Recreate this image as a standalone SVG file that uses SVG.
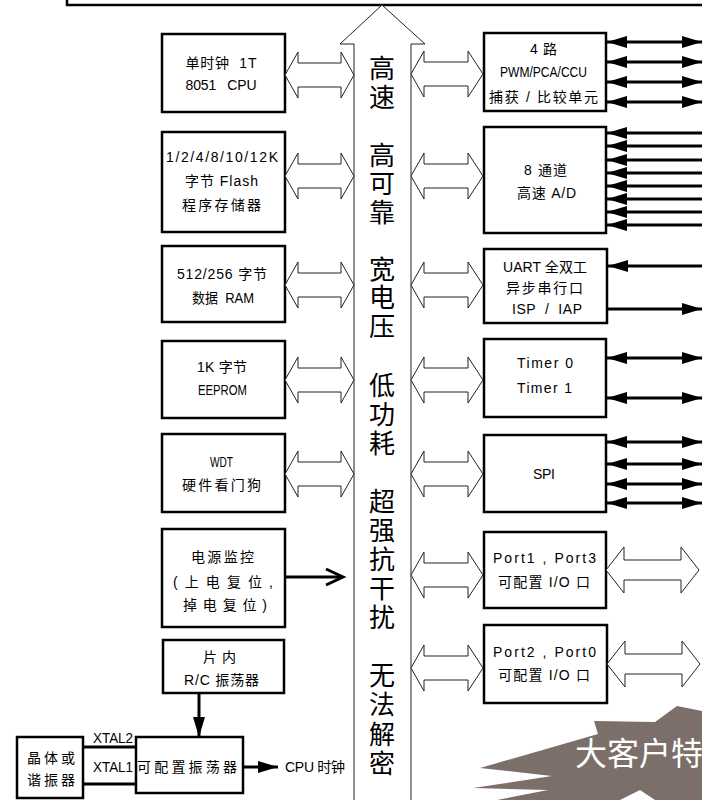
<svg xmlns="http://www.w3.org/2000/svg" width="702" height="800" viewBox="0 0 702 800">
<defs>
<style>
.box{fill:#fff;stroke:#000;stroke-width:2.5}
.t{font-family:"Liberation Sans","Noto Sans CJK SC",sans-serif;font-size:14px;fill:#000;text-anchor:middle;white-space:pre}
.bt{font-family:"Noto Sans CJK SC",sans-serif;font-size:26px;fill:#000;writing-mode:vertical-rl;text-anchor:start;letter-spacing:3px}
.hol{fill:#fff;stroke:#222;stroke-width:1}
.ln{stroke:#000;stroke-width:3;fill:none}
.lnb{stroke:#000;stroke-width:3;fill:none;marker-start:url(#ah);marker-end:url(#ah)}
.lne{stroke:#000;stroke-width:3;fill:none;marker-end:url(#ah)}
</style>
<marker id="ah" viewBox="0 0 20 12" refX="20" refY="6" markerWidth="20" markerHeight="12" markerUnits="userSpaceOnUse" orient="auto-start-reverse"><path d="M0,0L20,6L0,12z" fill="#000"/></marker>
<path id="hl" d="M0,0 L13,-23 L13,-12 L56,-12 L56,-23 L69,0 L56,23 L56,12 L13,12 L13,23Z"/>
<path id="hr" d="M0,0 L13,-23 L13,-12 L57,-12 L57,-23 L72,0 L57,23 L57,12 L13,12 L13,23Z"/>
<path id="hp" d="M0,0 L18,-23 L18,-10 L75,-10 L75,-23 L93,0 L75,23 L75,10 L18,10 L18,23Z"/>
</defs>
<rect width="702" height="800" fill="#fff"/>

<g id="top"><rect class="box" x="67" y="-20" width="660" height="25"/></g>

<g id="bus">
<path d="M354,800 L354,44 L340,44 L382,5 L425,44 L411,44 L411,800" fill="#fff" stroke="#222" stroke-width="1"/>
<text class="bt" x="382" y="55">高速</text>
<text class="bt" x="382" y="142" style="letter-spacing:2.5px">高可靠</text>
<text class="bt" x="382" y="256" style="letter-spacing:2.5px">宽电压</text>
<text class="bt" x="382" y="372">低功耗</text>
<text class="bt" x="382" y="488">超强抗干扰</text>
<text class="bt" x="382" y="662" style="letter-spacing:3.5px">无法解密</text>
</g>

<g id="cpu"><rect class="box" x="162" y="34" width="123" height="78"/>
<text class="t" x="221" y="68" textLength="71" lengthAdjust="spacing">单时钟  1T</text>
<text class="t" x="221" y="90" textLength="71" lengthAdjust="spacing">8051   CPU</text></g>

<g id="flash"><rect class="box" x="162" y="132" width="123" height="100"/>
<text class="t" x="222" y="162" textLength="112" lengthAdjust="spacing">1/2/4/8/10/12K</text>
<text class="t" x="221.5" y="186" textLength="73" lengthAdjust="spacing">字节 Flash</text>
<text class="t" x="221.5" y="210" textLength="79" lengthAdjust="spacing">程序存储器</text></g>

<g id="ram"><rect class="box" x="162" y="246" width="123" height="76"/>
<text class="t" x="222" y="279" textLength="90" lengthAdjust="spacing">512/256 字节</text>
<text class="t" x="223" y="303" textLength="62" lengthAdjust="spacingAndGlyphs">数据  RAM</text></g>

<g id="eeprom"><rect class="box" x="162" y="341" width="123" height="77"/>
<text class="t" x="222" y="372" textLength="50" lengthAdjust="spacing">1K 字节</text>
<text class="t" x="222.5" y="395" textLength="49" lengthAdjust="spacingAndGlyphs">EEPROM</text></g>

<g id="wdt"><rect class="box" x="162" y="434" width="123" height="78"/>
<text class="t" x="221.5" y="467" textLength="23" lengthAdjust="spacingAndGlyphs">WDT</text>
<text class="t" x="221.5" y="490" textLength="79" lengthAdjust="spacing">硬件看门狗</text></g>

<g id="power"><rect class="box" x="162" y="529" width="123" height="98"/>
<text class="t" x="222.5" y="562" textLength="63" lengthAdjust="spacing">电源监控</text>
<text class="t" x="223" y="587" textLength="100" lengthAdjust="spacing">( 上 电 复 位 ,</text>
<text class="t" x="225" y="610" textLength="84" lengthAdjust="spacing">掉 电 复 位 )</text></g>

<g id="rc"><rect class="box" x="163" y="640" width="121" height="53"/>
<text class="t" x="219.5" y="662" textLength="33" lengthAdjust="spacing">片内</text>
<text class="t" x="221.5" y="685" textLength="75" lengthAdjust="spacing">R/C 振荡器</text></g>

<g id="osc"><rect class="box" x="136" y="737" width="107" height="56"/>
<text class="t" x="187" y="772" textLength="100" lengthAdjust="spacing">可配置振荡器</text></g>

<g id="crystal"><rect class="box" x="17" y="737" width="66" height="61"/>
<text class="t" x="51" y="763" textLength="48" lengthAdjust="spacing">晶体或</text>
<text class="t" x="51" y="785" textLength="48" lengthAdjust="spacing">谐振器</text></g>

<g id="pwm"><rect class="box" x="484" y="33" width="122" height="78"/>
<text class="t" x="543.5" y="54" textLength="27" lengthAdjust="spacing">4 路</text>
<text class="t" x="543.5" y="77" textLength="87" lengthAdjust="spacingAndGlyphs">PWM/PCA/CCU</text>
<text class="t" x="543.5" y="102" textLength="109" lengthAdjust="spacing">捕获 / 比较单元</text></g>

<g id="adc"><rect class="box" x="484" y="127" width="122" height="106"/>
<text class="t" x="545.5" y="175" textLength="43" lengthAdjust="spacing">8 通道</text>
<text class="t" x="546.5" y="198" textLength="59" lengthAdjust="spacing">高速 A/D</text></g>

<g id="uart"><rect class="box" x="484" y="249" width="123" height="74"/>
<text class="t" x="545" y="272" textLength="84" lengthAdjust="spacing">UART 全双工</text>
<text class="t" x="544.5" y="293" textLength="77" lengthAdjust="spacing">异步串行口</text>
<text class="t" x="547" y="314" textLength="70" lengthAdjust="spacing">ISP  /  IAP</text></g>

<g id="timer"><rect class="box" x="484" y="339" width="122" height="78"/>
<text class="t" x="545" y="368" textLength="56" lengthAdjust="spacing">Timer 0</text>
<text class="t" x="544.5" y="393" textLength="55" lengthAdjust="spacing">Timer 1</text></g>

<g id="spi"><rect class="box" x="484" y="435" width="122" height="77"/>
<text class="t" x="544" y="479" textLength="22" lengthAdjust="spacing">SPI</text></g>

<g id="port13"><rect class="box" x="484" y="532" width="122" height="76"/>
<text class="t" x="544.5" y="563" textLength="103" lengthAdjust="spacing">Port1 , Port3</text>
<text class="t" x="544" y="587" textLength="92" lengthAdjust="spacing">可配置 I/O 口</text></g>

<g id="port20"><rect class="box" x="484" y="625" width="123" height="78"/>
<text class="t" x="544.5" y="657" textLength="103" lengthAdjust="spacing">Port2 , Port0</text>
<text class="t" x="544" y="680" textLength="92" lengthAdjust="spacing">可配置 I/O 口</text></g>

<g id="banner">
<polygon points="677,706 702,711 702,800 655,800 640,790 620,800 497,800 548,790 473,788 552,776 480,768 598,734 594,721 655,722" fill="#7c6e69"/>
<text x="575" y="765" font-family="Noto Sans CJK SC, sans-serif" font-size="32" fill="#fff">大客户特</text>
</g>

<g id="connectors">
<use href="#hl" class="hol" x="285" y="75"/>
<use href="#hl" class="hol" x="285" y="176"/>
<use href="#hl" class="hol" x="285" y="285"/>
<use href="#hl" class="hol" x="285" y="380"/>
<use href="#hl" class="hol" x="285" y="474"/>
<use href="#hr" class="hol" x="411" y="74"/>
<use href="#hr" class="hol" x="411" y="176"/>
<use href="#hr" class="hol" x="411" y="285"/>
<use href="#hr" class="hol" x="411" y="380"/>
<use href="#hr" class="hol" x="411" y="474"/>
<use href="#hr" class="hol" x="411" y="575"/>
<use href="#hr" class="hol" x="411" y="668"/>
<use href="#hp" class="hol" x="606" y="570"/>
<use href="#hp" class="hol" x="607" y="664"/>
<line class="lnb" x1="607" y1="42" x2="702" y2="42"/>
<line class="lnb" x1="607" y1="62" x2="702" y2="62"/>
<line class="lnb" x1="607" y1="82" x2="702" y2="82"/>
<line class="lnb" x1="607" y1="102" x2="702" y2="102"/>
<line class="lne" x1="702" y1="133" x2="607" y2="133"/>
<line class="lne" x1="702" y1="146" x2="607" y2="146"/>
<line class="lne" x1="702" y1="160" x2="607" y2="160"/>
<line class="lne" x1="702" y1="173" x2="607" y2="173"/>
<line class="lne" x1="702" y1="186" x2="607" y2="186"/>
<line class="lne" x1="702" y1="199" x2="607" y2="199"/>
<line class="lne" x1="702" y1="212" x2="607" y2="212"/>
<line class="lne" x1="702" y1="225" x2="607" y2="225"/>
<line class="lne" x1="702" y1="266" x2="608" y2="266"/>
<line class="lne" x1="608" y1="309" x2="702" y2="309"/>
<line class="lnb" x1="607" y1="358" x2="702" y2="358"/>
<line class="lnb" x1="607" y1="398" x2="702" y2="398"/>
<line class="lnb" x1="607" y1="442" x2="702" y2="442"/>
<line class="lnb" x1="607" y1="464" x2="702" y2="464"/>
<line class="lnb" x1="607" y1="484" x2="702" y2="484"/>
<line class="lnb" x1="607" y1="503" x2="702" y2="503"/>
<line class="ln" x1="285" y1="577" x2="342" y2="577"/>
<polyline class="ln" points="326,569 343,577 326,585"/>
<line class="lne" x1="199" y1="693" x2="199" y2="737"/>
<line class="lne" x1="243" y1="767" x2="278" y2="767"/>
<line class="ln" x1="83" y1="747" x2="136" y2="747" stroke-width="2.5"/>
<line class="ln" x1="83" y1="784" x2="136" y2="784" stroke-width="2.5"/>
<text class="t" x="113" y="743" textLength="40" lengthAdjust="spacingAndGlyphs">XTAL2</text>
<text class="t" x="113" y="772" textLength="40" lengthAdjust="spacingAndGlyphs">XTAL1</text>
<text class="t" x="315" y="772" textLength="60" lengthAdjust="spacing">CPU 时钟</text>
</g>
</svg>
